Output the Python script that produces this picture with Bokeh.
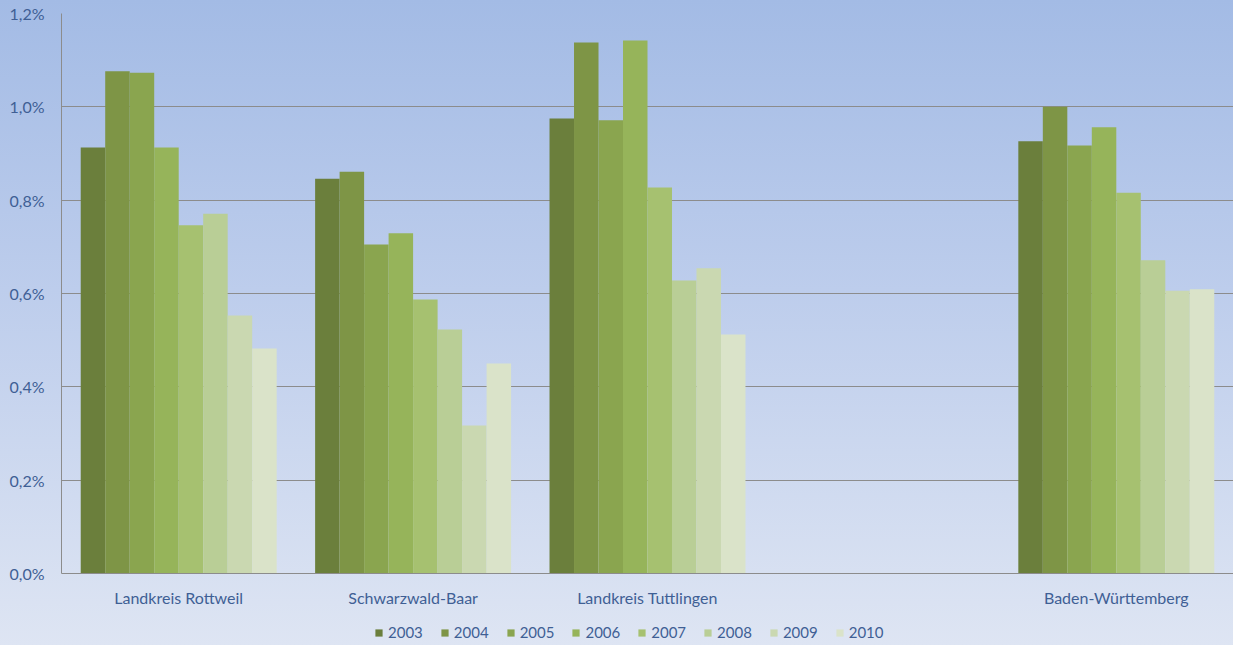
from bokeh.plotting import figure
from bokeh.models import FactorRange, Range1d, CustomJSTickFormatter, Legend, LegendItem, ColumnDataSource
from bokeh.transform import dodge
from bokeh.embed import file_html
from bokeh.resources import INLINE

axis_factors = ["Landkreis Rottweil", "Schwarzwald-Baar", "Landkreis Tuttlingen", " ", "Baden-Württemberg"]
regions = ["Landkreis Rottweil", "Schwarzwald-Baar", "Landkreis Tuttlingen", "Baden-Württemberg"]
years = ["2003", "2004", "2005", "2006", "2007", "2008", "2009", "2010"]

# values in percent
v2003 = [0.913, 0.846, 0.975, 0.926]
v2004 = [1.076, 0.861, 1.138, 1.000]
v2005 = [1.073, 0.705, 0.971, 0.917]
v2006 = [0.913, 0.729, 1.142, 0.956]
v2007 = [0.746, 0.587, 0.827, 0.816]
v2008 = [0.771, 0.523, 0.628, 0.671]
v2009 = [0.553, 0.317, 0.654, 0.606]
v2010 = [0.482, 0.450, 0.512, 0.609]
series = [v2003, v2004, v2005, v2006, v2007, v2008, v2009, v2010]
y_ticks = [0, 0.2, 0.4, 0.6, 0.8, 1.0, 1.2]

colors = ["#6B7F3C", "#7E9546", "#8AA54F", "#96B45A", "#A6C170", "#B9CE96", "#CAD8B1", "#DAE3C9"]

FONT = "Lato"
TXT = "#3F5F95"

# frame extends below zero so the legend can sit inside it
p = figure(x_range=FactorRange(factors=axis_factors), y_range=Range1d(-0.1543, 1.2),
           frame_width=1172, frame_height=632, output_backend="svg", toolbar_location=None,
           min_border_left=61, min_border_right=0, min_border_top=13, min_border_bottom=0)
p.styles = {"background": "linear-gradient(to bottom, #A3BBE5 0px, #BDCDEC 290px, #DEE5F3 646px, #DEE5F3 100%)"}
p.background_fill_alpha = 0
p.border_fill_alpha = 0
p.outline_line_color = None

src = ColumnDataSource(dict(region=regions, **{"y" + y: s for y, s in zip(years, series)}))

bw = 0.1045
items = []
for i, y in enumerate(years):
    r = p.vbar(x=dodge("region", (i - 3.5) * bw, range=p.x_range), top="y" + y, width=bw,
               source=src, fill_color=colors[i], line_color=None)
    items.append(LegendItem(label=y, renderers=[r]))

p.ygrid.grid_line_color = "#8C8C8C"
p.ygrid.grid_line_width = 1
p.xgrid.grid_line_color = None

p.yaxis.ticker = y_ticks
p.yaxis.bounds = (0, 1.2)
p.yaxis.formatter = CustomJSTickFormatter(code="return tick.toFixed(1).replace('.', ',') + '%';")
p.xaxis.fixed_location = 0
for ax in (p.xaxis, p.yaxis):
    ax.axis_line_color = "#8C8C8C"
    ax.major_tick_line_color = None
    ax.minor_tick_line_color = None
    ax.major_tick_out = 0
    ax.major_tick_in = 0
    ax.major_label_text_font = FONT
    ax.major_label_text_font_size = "16px"
    ax.major_label_text_color = TXT
p.yaxis.major_label_standoff = 17
p.xaxis.major_label_standoff = 15

legend = Legend(items=items, orientation="horizontal", location=(313, 4),
                label_text_font=FONT, label_text_font_size="15px", label_text_color=TXT,
                glyph_width=9, glyph_height=9, label_standoff=5, spacing=17,
                label_height=18,
                background_fill_alpha=0, border_line_color=None, padding=0, margin=0)
p.add_layout(legend)

open("out.html", "w").write(file_html(p, INLINE))
